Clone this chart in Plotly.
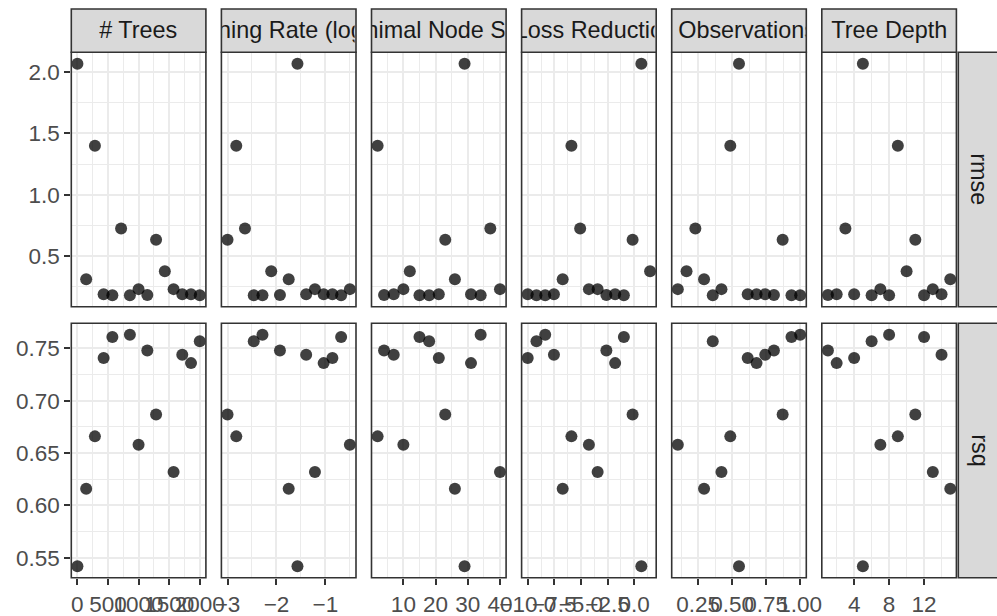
import plotly.graph_objects as go

# ---- data (15 tuning configurations) ----
trees = [1, 144, 287, 429, 572, 715, 858, 1000, 1143, 1286, 1429, 1572, 1714, 1857, 2000]
learn_rate_log10 = [-1.571, -1.75, -2.821, -0.857, -0.679, -2.643, -2.286, -0.5, -1.929, -3.0,
                    -2.107, -1.214, -1.393, -1.036, -2.464]
min_n = [29, 26, 2, 21, 15, 37, 34, 10, 4, 23, 12, 40, 7, 31, 18]
loss_reduction_log10 = [0.679, -6.714, -5.893, -10.0, -0.964, -5.071, -8.357, -4.25, -2.607, -0.143,
                        1.5, -3.429, -7.536, -1.786, -9.179]
sample_size = [0.55, 0.293, 0.486, 0.614, 0.936, 0.229, 1.0, 0.1, 0.807, 0.871,
               0.164, 0.421, 0.743, 0.679, 0.357]
tree_depth = [5, 15, 9, 4, 12, 3, 8, 7, 1, 11, 10, 13, 14, 2, 6]
rmse = [2.068, 0.311, 1.40, 0.189, 0.181, 0.724, 0.181, 0.230, 0.183, 0.632,
        0.376, 0.230, 0.189, 0.189, 0.181]
rsq = [0.542, 0.616, 0.666, 0.741, 0.761, None, 0.763, 0.658, 0.748, 0.687,
       None, 0.632, 0.744, 0.736, 0.757]

param_labels = ["# Trees", "Learning Rate (log-10)", "Minimal Node Size",
                "Minimum Loss Reduction (log-10)", "Proportion Observations Sampled", "Tree Depth"]
param_values = [trees, learn_rate_log10, min_n, loss_reduction_log10, sample_size, tree_depth]
metric_labels = ["rmse", "rsq"]
metric_values = [rmse, rsq]

# ---- layout geometry (pixels) ----
W, H = 997, 616
panel_left = [71.3, 221.4, 371.5, 521.6, 671.7, 821.8]
panel_w = 134.6
row_top = [52.3, 323.3]
row_h = 254.4
strip_top = 9.0
strip_right_x0 = 958.3

def px(x):
    return x / W

def py(y):
    return 1 - y / H

x_ticks = [dict(dtick=500, tick0=0, mdt=250, fmt=""),
           dict(dtick=1, tick0=0, mdt=0.5, fmt=""),
           dict(dtick=10, tick0=0, mdt=5, fmt=""),
           dict(dtick=2.5, tick0=0, mdt=1.25, fmt=".1f"),
           dict(dtick=0.25, tick0=0, mdt=0.125, fmt=".2f"),
           dict(dtick=4, tick0=0, mdt=2, fmt="")]
y_ticks = [dict(dtick=0.5, tick0=0, mdt=0.25, fmt=".1f"),
           dict(dtick=0.05, tick0=0, mdt=0.025, fmt=".2f")]

FONT = "Liberation Sans, Arial, sans-serif"
TICKFONT = dict(family=FONT, size=22.5, color="#4D4D4D")
STRIPFONT = dict(family=FONT, size=23.4, color="#1A1A1A")
GRID = "#EBEBEB"
DARK = "#333333"

fig = go.Figure()
layout = dict(width=W, height=H, margin=dict(l=0, r=0, t=0, b=0),
              paper_bgcolor="white", plot_bgcolor="white", showlegend=False)

def rng(vals):
    v = [a for a in vals if a is not None]
    lo, hi = min(v), max(v)
    pad = (hi - lo) * 0.05
    return [lo - pad, hi + pad]

# axes: x per column, y per row
for c in range(6):
    t = x_ticks[c]
    name = "xaxis" if c == 0 else f"xaxis{c+1}"
    layout[name] = dict(domain=[px(panel_left[c]), px(panel_left[c] + panel_w)],
                        range=rng(param_values[c]), anchor="y2",
                        tickmode="linear", dtick=t["dtick"], tick0=t["tick0"], tickformat=t["fmt"],
                        showgrid=True, gridcolor=GRID, gridwidth=2, zeroline=False,
                        minor=dict(dtick=t["mdt"], tick0=t["tick0"], showgrid=True,
                                   gridcolor=GRID, gridwidth=1),
                        ticks="outside", ticklen=6, tickwidth=1.6, tickcolor=DARK,
                        tickfont=TICKFONT, tickangle=0, showline=False, automargin=False,
                        fixedrange=True)
for r in range(2):
    t = y_ticks[r]
    name = "yaxis" if r == 0 else f"yaxis{r+1}"
    layout[name] = dict(domain=[py(row_top[r] + row_h), py(row_top[r])],
                        range=rng(metric_values[r]), anchor="x",
                        tickmode="linear", dtick=t["dtick"], tick0=t["tick0"], tickformat=t["fmt"],
                        showgrid=True, gridcolor=GRID, gridwidth=2, zeroline=False,
                        minor=dict(dtick=t["mdt"], tick0=t["tick0"], showgrid=True,
                                   gridcolor=GRID, gridwidth=1),
                        ticks="outside", ticklen=6, tickwidth=1.6, tickcolor=DARK,
                        tickfont=TICKFONT, showline=False, automargin=False, fixedrange=True)

for r in range(2):
    for c in range(6):
        xs, ys = [], []
        for xv, yv in zip(param_values[c], metric_values[r]):
            if yv is not None:
                xs.append(xv)
                ys.append(yv)
        fig.add_trace(go.Scatter(
            x=xs, y=ys, mode="markers",
            xaxis="x" if c == 0 else f"x{c+1}",
            yaxis="y" if r == 0 else f"y{r+1}",
            marker=dict(size=12, color="rgba(0,0,0,0.75)", line=dict(width=0)),
            cliponaxis=False, hoverinfo="skip"))

shapes = []
annotations = []
# panel borders
for r in range(2):
    for c in range(6):
        shapes.append(dict(type="rect", xref="paper", yref="paper", layer="above",
                           x0=px(panel_left[c]), x1=px(panel_left[c] + panel_w),
                           y0=py(row_top[r] + row_h), y1=py(row_top[r]),
                           line=dict(color=DARK, width=1.6), fillcolor="rgba(0,0,0,0)"))
# top strips
for c in range(6):
    shapes.append(dict(type="rect", xref="paper", yref="paper", layer="above",
                       x0=px(panel_left[c]), x1=px(panel_left[c] + panel_w),
                       y0=py(row_top[0]), y1=py(strip_top),
                       line=dict(color=DARK, width=1.6), fillcolor="#D9D9D9"))
    annotations.append(dict(text=param_labels[c], xref="paper", yref="paper",
                            x=px(panel_left[c] + panel_w / 2), y=py((strip_top + row_top[0]) / 2 - 0.5),
                            xanchor="center", yanchor="middle", showarrow=False,
                            width=panel_w - 2, align="center", borderpad=0,
                            font=STRIPFONT))
# right strips
for r in range(2):
    shapes.append(dict(type="rect", xref="paper", yref="paper", layer="above",
                       x0=px(strip_right_x0), x1=px(W + 10),
                       y0=py(row_top[r] + row_h), y1=py(row_top[r]),
                       line=dict(color=DARK, width=1.6), fillcolor="#D9D9D9"))
    annotations.append(dict(text=metric_labels[r], xref="paper", yref="paper",
                            x=px(strip_right_x0 + 21.0), y=py(row_top[r] + row_h / 2),
                            xanchor="center", yanchor="middle", showarrow=False,
                            textangle=90, font=STRIPFONT))

layout["shapes"] = shapes
layout["annotations"] = annotations
fig.update_layout(**layout)
fig.write_html("out.html")
